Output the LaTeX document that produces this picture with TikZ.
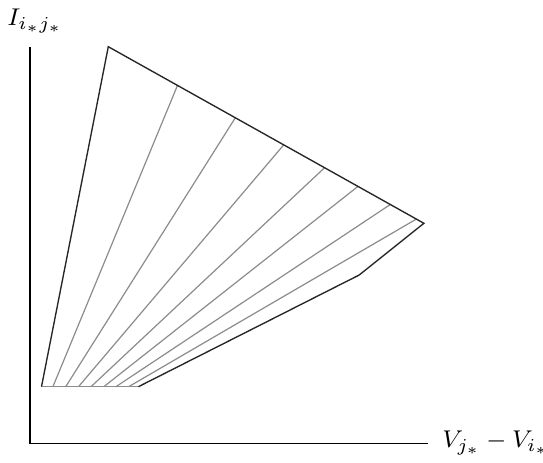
\documentclass[tikz,border=0pt]{standalone}
\usetikzlibrary{calc, positioning}

\begin{document}
\begin{tikzpicture}[
    x=0.33pt, y=-0.33pt,
    % Estilos
    axis line/.style={black, line width=0.5pt},
    region edge/.style={black!85, line width=0.45pt, line join=miter},
    fan line/.style={black!45, line width=0.4pt},
    axis label/.style={inner sep=0pt, font=\fontsize{8.3}{10}\selectfont}
]
    \useasboundingbox (0,0) rectangle (543,462);

    % =========================================================
    % 1. Ejes
    % =========================================================
    \coordinate (origin) at (30,443.3);
    \coordinate (ytop) at (30,46.7);
    \coordinate (xend) at (428,443.3);
    \draw[axis line] (ytop) -- (origin) -- (xend);

    \node[axis label] (ylabel) at (35,21) {$I_{i_*j_*}$};
    \node[axis label, anchor=west, right=4.5pt of xend] (xlabel) {$V_{j_*}-V_{i_*}$};

    % =========================================================
    % 2. Vertices de la region
    % =========================================================
    \coordinate (pleft) at (41.5,386.7);   % esquina inferior izquierda
    \coordinate (ptop) at (108.3,46.7);    % vertice superior
    \coordinate (pright) at (423.9,223.3); % vertice derecho
    \coordinate (pkink) at (359.2,275);    % quiebre del borde inferior
    \coordinate (pbase) at (138.4,386.7);  % fin de la base

    % =========================================================
    % 3. Abanico de rectas (base -> borde superior)
    % =========================================================
    \foreach \i/\bx/\tx/\ty in {1/52.9/177.5/85.4, 2/65.7/235.3/117.8,
        3/78.5/283.7/144.9, 4/91/324.6/167.7, 5/103.8/358.1/186.3,
        6/115.9/390.3/204.5, 7/128.7/416.3/219.1} {
        \coordinate (b\i) at (\bx,386.7);
        \coordinate (t\i) at (\tx,\ty);
        \draw[fan line] (b\i) -- (t\i);
    }
    \draw[fan line] (pleft) -- (pbase);

    % Borde de la region
    \draw[region edge] (pbase) -- (pkink) -- (pright) -- (ptop) -- (pleft);

\end{tikzpicture}
\end{document}
